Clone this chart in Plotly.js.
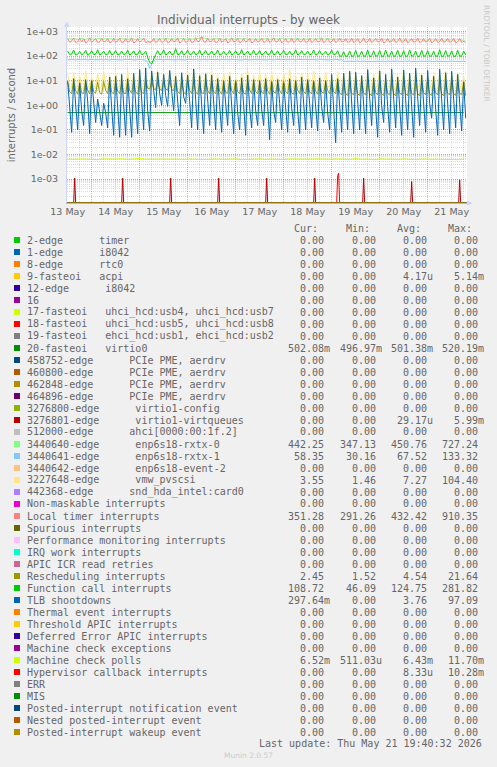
<!DOCTYPE html>
<html><head><meta charset="utf-8">
<script src="https://cdn.plot.ly/plotly-3.0.1.min.js"></script>
<style>html,body{margin:0;padding:0;background:#F0F0F0;}#chart{width:497px;height:767px;}</style>
</head><body><div id="chart"></div>
<script>
// ---------- axis range / categories ----------
const RANGE_START = '2026-05-13 11:40';
const RANGE_END = '2026-05-21 19:40';
const GRID_START_UTC = Date.UTC(2026, 4, 13, 12, 0); // first hourly sample
const yTickVals = [1e-3, 1e-2, 1e-1, 1e0, 1e1, 1e2, 1e3];
const yTickText = ['1e-03', '1e-02', '1e-01', '1e+00', '1e+01', '1e+02', '1e+03'];

// ---------- legend ----------
const labels = [
  '2-edge      timer', '1-edge      i8042', '8-edge      rtc0', '9-fasteoi   acpi',
  '12-edge      i8042', '16', '17-fasteoi   uhci_hcd:usb4, uhci_hcd:usb7',
  '18-fasteoi   uhci_hcd:usb5, uhci_hcd:usb8', '19-fasteoi   ehci_hcd:usb1, ehci_hcd:usb2',
  '20-fasteoi   virtio0', '458752-edge      PCIe PME, aerdrv', '460800-edge      PCIe PME, aerdrv',
  '462848-edge      PCIe PME, aerdrv', '464896-edge      PCIe PME, aerdrv',
  '3276800-edge      virtio1-config', '3276801-edge      virtio1-virtqueues',
  '512000-edge      ahci[0000:00:1f.2]', '3440640-edge      enp6s18-rxtx-0',
  '3440641-edge      enp6s18-rxtx-1', '3440642-edge      enp6s18-event-2',
  '3227648-edge      vmw_pvscsi', '442368-edge      snd_hda_intel:card0',
  'Non-maskable interrupts', 'Local timer interrupts', 'Spurious interrupts',
  'Performance monitoring interrupts', 'IRQ work interrupts', 'APIC ICR read retries',
  'Rescheduling interrupts', 'Function call interrupts', 'TLB shootdowns',
  'Thermal event interrupts', 'Threshold APIC interrupts', 'Deferred Error APIC interrupts',
  'Machine check exceptions', 'Machine check polls', 'Hypervisor callback interrupts',
  'ERR', 'MIS', 'Posted-interrupt notification event', 'Nested posted-interrupt event',
  'Posted-interrupt wakeup event'
];
const colors = [
  '#00CC00', '#0066B3', '#FF8000', '#FFCC00', '#330099', '#990099', '#CCFF00', '#FF0000', '#808080',
  '#008F00', '#00487D', '#B35A00', '#B38F00', '#6B006B', '#8FB300', '#B30000', '#BEBEBE', '#80FF80',
  '#80C9FF', '#FFC080', '#FFE680', '#AA80FF', '#EE00CC', '#FF8080', '#666600', '#FFBFFF', '#00FFCC',
  '#CC6699', '#999900', '#00CC00', '#0066B3', '#FF8000', '#FFCC00', '#330099', '#990099', '#CCFF00',
  '#FF0000', '#808080', '#008F00', '#00487D', '#B35A00', '#B38F00'
];
const curVals = [0,0,0,0,0,0,0,0,0,0.50208,0,0,0,0,0,0,0,442.25,58.35,0,3.55,0,0,351.28,0,0,0,0,2.45,108.72,0.29764,0,0,0,0,6.52e-3,0,0,0,0,0,0];
const minVals = [0,0,0,0,0,0,0,0,0,0.49697,0,0,0,0,0,0,0,347.13,30.16,0,1.46,0,0,291.26,0,0,0,0,1.52,46.09,0,0,0,0,0,511.03e-6,0,0,0,0,0,0];
const avgVals = [0,0,0,4.17e-6,0,0,0,0,0,0.50138,0,0,0,0,0,29.17e-6,0,450.76,67.52,0,7.27,0,0,432.42,0,0,0,0,4.54,124.75,3.76,0,0,0,0,6.43e-3,8.33e-6,0,0,0,0,0];
const maxVals = [0,0,0,5.14e-3,0,0,0,0,0,0.52019,0,0,0,0,0,5.99e-3,0,727.24,133.32,0,104.40,0,0,910.35,0,0,0,0,21.64,281.82,97.09,0,0,0,0,11.70e-3,10.28e-3,0,0,0,0,0];

// ---------- series values (hourly from 13 May 12:00 unless noted) ----------
const tlbVals = [
  9.5,1.2,0.08, 12,0.9,0.1, 8,0.6,0.15, 11,1.5,0.07, 10,1.1,0.2, 1.8,0.4,0.15, 1.2,0.5,0.12, 14,0.8,0.06,
  15,0.7,0.05, 18,1.0,0.06, 12,0.5,0.05, 20,0.9,0.07, 28,1.3,0.1, 33,0.6,0.09, 25,4,0.8, 22,3,1.0,
  18,2.5,0.9, 26,3,0.6, 15,1.8,0.15, 21,2.2,1.2, 17,1.4,0.12, 30,1.0,0.1, 16,0.8,0.07, 19,1.2,0.15,
  17,0.9,0.1, 12,0.6,0.08, 10,1.1,0.15, 15,0.7,0.07, 9,0.5,0.1, 13,1.0,0.06, 17,0.8,0.12, 11,0.6,0.15,
  10,0.7,0.15, 12,0.9,0.04, 9,0.6,0.2, 11,1.2,0.1, 8,0.5,0.08, 12,0.8,0.15, 10,0.6,0.07, 14,1.0,0.1,
  11,0.7,0.12, 9,0.6,0.09, 13,0.9,0.2, 10,0.5,0.1, 18,0.8,0.03, 12,0.7,0.08, 20,1.1,0.1, 24,1.0,0.07,
  22,1.2,0.1, 16,0.8,0.07, 28,1.4,0.15, 13,0.7,0.05, 25,1.0,0.2, 18,0.9,0.08, 30,1.3,0.12, 14,0.6,0.06,
  27,1.1,0.1, 20,0.9,0.05, 32,1.5,0.15, 17,0.8,0.08, 26,1.2,0.3, 15,0.7,0.06, 29,1.0,0.1, 21,0.9,0.07,
  24,1.1,0.12, 18,0.8,0.09, 9,0.3
];
const localTimerVals = [
  520,360,410,540,350,380,530,370,500,340,390,550,360,420,510,350,380,540,370,400,520,340,380,530,
  360,410,540,350,370,520,360,400,550,340,380,510,370,420,540,350,390,360,380,520,350,400,530,360,
  390,540,350,380,520,370,410,550,340,390,530,360,400,520,350,380,560,370,410,620,380,360,540,370,
  400,530,350,380,540,360,410,520,340,390,550,370,400,530,350,380,520,360,410,540,340,390,510,370,
  400,540,360,380,520,350,410,550,370,390,530,340,400,520,360,380,540,350,410,530,370,390,520,360,
  380,540,350,400,520,370,390,550,340,410,530,360,380,520,350,400,540,370,390,510,360,380,540,350,
  400,520,340,390,550,360,380,530,350,410,520,370,390,540,340,380,530,360,400,520,350,390,550,360,
  380,530,340,400,520,360,390,540,350,380,510,370,400,530,340,390,520,360,380,540,350,400,520,360,
  390,530,340,380,520,360,400,350
];
const rxtx0Vals = [
  480,500,470,510,490,460,500,520,480,470,510,490,500,480,470,510,500,490,480,520,470,500,490,480,
  500,470,490,510,480,500,470,490,510,480,460,490,500,480,470,490,430,350,420,480,500,490,470,500,
  480,490,510,470,500,480,490,470,500,510,480,490,470,500,480,490,470,510,540,590,560,500,480,490,
  470,500,480,490,510,470,480,500,490,470,510,480,490,470,500,480,490,510,470,480,500,490,470,480,
  500,470,490,480,510,470,490,500,480,470,490,510,480,470,500,490,480,470,510,490,480,470,500,480,
  490,470,500,480,470,490,510,480,470,490,500,480,470,490,480,460,470,450,460,470,450,460,470,450,
  460,450,470,440,460,450,470,460,440,450,470,460,450,440,460,470,450,460,440,450,470,460,450,440,
  460,450,440,470,460,450,440,460,470,450,460,440,450,470,460,450,440,460,450,470,440,460,450,460,
  450,460,440,470,450,460,440,442
];
const functionCallVals = [
  160,115,120,175,110,118,155,112,125,170,108,120,165,114,118,180,110,122,158,112,116,172,110,120,
  168,112,118,160,115,120,176,110,124,162,112,118,170,114,120,158,90,55,48,80,115,165,112,120,
  178,110,122,160,114,118,200,112,120,165,110,125,172,115,118,160,112,120,175,110,122,168,114,118,
  162,112,120,176,110,118,158,114,122,170,110,120,165,112,118,180,110,124,160,114,118,172,112,120,
  168,110,122,160,114,118,175,112,120,163,110,125,170,114,118,158,112,120,178,110,122,165,114,118,
  160,112,120,176,110,118,168,114,122,158,110,120,172,112,118,165,100,98,150,96,102,160,98,100,
  170,96,104,158,98,100,176,95,102,162,98,104,168,96,100,175,98,102,160,95,104,172,98,100,
  165,96,102,178,98,104,160,95,100,170,98,102,166,96,104,158,98,100,180,95,102,168,98,104,
  162,96,100,172,98,102,160,108
];
const rxtx1Vals = [
  72,70,74,71,69,73,72,70,75,71,69,72,74,70,71,73,69,72,70,74,71,69,73,72,
  70,74,71,69,72,73,70,71,74,69,72,70,73,71,69,68,55,32,45,66,72,70,74,71,
  69,73,72,70,74,71,69,72,70,73,71,69,74,72,70,71,73,69,72,70,74,71,69,73,
  72,70,71,74,69,72,73,70,71,69,74,72,70,73,71,69,72,74,70,71,73,69,72,70,
  74,71,69,72,70,73,71,69,74,72,70,71,73,69,72,70,74,71,69,73,72,70,71,74,
  69,72,73,70,71,69,74,72,70,73,71,69,72,70,74,71,69,72,62,60,63,61,60,62,
  61,63,60,62,61,60,63,62,60,61,62,63,60,61,62,60,63,61,62,60,61,63,60,62,
  60,62,61,63,60,62,61,60,63,62,61,60,62,63,61,60,62,61,63,60,62,61,60,62,
  61,60,63,62,60,61,62,58
];
const pvscsiVals = [
  18,6,5,22,5,7,16,6,4,25,7,5,14,6,5,20,5,6,24,7,4,17,6,5,
  21,5,7,15,6,4,26,5,6,18,7,5,23,6,4,16,5,8,20,6,5,28,7,4,
  17,6,5,24,5,7,19,6,4,15,7,5,22,6,4,27,5,6,18,7,5,21,6,4,
  25,5,7,16,6,4,20,7,5,23,6,4,14,5,6,19,7,5,26,6,4,17,5,6,
  22,7,5,18,6,4,24,5,7,15,6,5,21,7,4,28,6,5,16,5,7,20,6,4,
  19,6,5,25,7,4,17,6,5,22,5,7,14,6,4,23,5,6,18,7,4,26,6,5,
  20,5,6,16,7,4,24,6,5,19,5,7,27,6,4,15,7,5,21,6,4,18,5,6,
  23,7,5,17,6,4,26,5,7,20,6,5,15,7,4,22,6,5,19,5,6,25,7,4,
  18,6,5,21,7,4,16,3.5
];
const reschedVals = [
  9,3.5,3, 10,4,2.8, 8.5,3.2,3, 9.5,4.2,2.9, 10,3.6,3.1, 8.8,3.3,2.8, 9.2,4,3, 10.5,3.4,2.9,
  9,3.8,3, 8.7,3.2,2.9, 10,4.1,3.1, 9.4,3.5,2.8, 8.9,3.3,3, 10.2,5,4.5, 9.6,4.8,4.2, 8.8,4.5,4,
  9.5,4.6,4.1, 10,4.4,3.9, 9,3.6,3, 8.6,3.3,2.9, 10.3,4,3, 9.1,3.5,2.8, 8.9,3.2,3, 9.7,4.1,2.9,
  10,3.4,3, 9.2,3.8,2.8, 8.7,3.3,3.1, 9.9,4,2.9, 10.4,3.5,3, 8.8,3.2,2.8, 9.5,4.2,3, 9.1,3.6,2.9,
  8.9,3.3,3, 10.1,3.9,2.8, 9.3,3.4,3.1, 8.6,4,2.9, 9.8,3.5,3, 10.2,3.2,2.8, 9,4.1,3, 8.7,3.6,2.9,
  9.6,3.3,3, 10,3.8,2.8, 9.1,3.4,3.1, 8.8,4,2.9, 9.7,3.5,3, 10.3,3.2,2.6, 9.2,3,2.5, 8.9,3.1,2.6,
  9.4,2.9,2.5, 10.1,3.2,2.6, 8.8,3,2.4, 9.6,3.3,2.6, 10.2,2.9,2.5, 9,3.1,2.6, 8.7,3,2.4, 9.8,3.2,2.6,
  10,2.9,2.5, 9.3,3.1,2.6, 8.9,3,2.4, 9.7,3.3,2.6, 10.4,2.9,2.5, 9.1,3.2,2.6, 8.8,3,2.4, 9.5,3.1,2.6,
  9.9,3,2.5, 9.2,3.2,2.6, 8.7,2.45
];
// every 3 hours
const mcPollVals = [
  0.0065,0.0063,0.0066,0.0064,0.0065,0.0062,0.0066,0.0064, 0.0065,0.0067,0.0063,0.0065,0.0071,0.0064,0.0065,0.0062,
  0.0066,0.0064,0.0065,0.0063,0.0066,0.0065,0.0062,0.0064, 0.0066,0.0065,0.0063,0.0064,0.0066,0.0062,0.0065,0.0064,
  0.0066,0.0063,0.0065,0.0064,0.0062,0.0066,0.0065,0.0063, 0.0064,0.0066,0.0065,0.0062,0.0064,0.0066,0.0065,0.0063,
  0.0068,0.0064,0.0065,0.0062,0.0066,0.0064,0.0065,0.0063, 0.0066,0.0064,0.0062,0.0065,0.0064,0.0066,0.0063,0.0065,
  0.0064,0.0062,0.0065
];
// every 6 hours
const virtio0Vals = [
  0.502,0.501,0.503,0.500,0.502,0.501,0.504,0.502, 0.500,0.503,0.501,0.502,0.500,0.502,0.503,0.501,
  0.502,0.500,0.501,0.503,0.502,0.501,0.500,0.502, 0.503,0.501,0.502,0.500,0.502,0.501,0.503,0.502,
  0.501,0.502
];
// short daily spikes (otherwise zero)
const virtqSpikeTimes = ['2026-05-13 15:30','2026-05-14 15:30','2026-05-15 15:30','2026-05-16 15:30',
  '2026-05-17 15:30','2026-05-18 15:30','2026-05-19 16:00','2026-05-20 16:00','2026-05-21 16:00'];
const virtqSpikeVals = [1.1e-3, 1.1e-3, 1.1e-3, 1.1e-3, 1.1e-3, 1.1e-3, 1.1e-3, 8.0e-4, 9.4e-4];
const hvTimes = ['2026-05-19 02:30','2026-05-19 03:00','2026-05-19 03:30','2026-05-19 04:00'];
const hvVals = [0, 1.4e-3, 1.75e-3, 0];

// ---------- build ----------
const Y_MIN = -3.97, Y_MAX = 3.18;
const FLOOR = Math.pow(10, Y_MIN);
const tstr = ms => new Date(ms).toISOString().slice(0, 16).replace('T', ' ');
const parseT = s => Date.parse(s.replace(' ', 'T') + ':00Z');
const grid = (n, stepH) => Array.from({length: n}, (_, i) => tstr(GRID_START_UTC + i * stepH * 3600e3));
const lift = arr => arr.map(v => (v > 0 ? v : FLOOR));

function regular(vals, stepH) { return {x: grid(vals.length, stepH), y: lift(vals)}; }
function spikes(times, vals) {
  const x = [RANGE_START], y = [0];
  times.forEach((t, i) => {
    const ms = parseT(t);
    x.push(tstr(ms - 1800e3), t, tstr(ms + 1800e3));
    y.push(0, vals[i], 0);
  });
  x.push(RANGE_END); y.push(0);
  return {x, y: lift(y)};
}
function sparse(times, vals) {
  return {x: [RANGE_START].concat(times, [RANGE_END]), y: lift([0].concat(vals, [0]))};
}

const dataFor = {
  9: regular(virtio0Vals, 6),
  15: spikes(virtqSpikeTimes, virtqSpikeVals),
  17: regular(rxtx0Vals, 1),
  18: regular(rxtx1Vals, 1),
  20: regular(pvscsiVals, 1),
  23: regular(localTimerVals, 1),
  28: regular(reschedVals, 1),
  29: regular(functionCallVals, 1),
  30: regular(tlbVals, 1),
  35: regular(mcPollVals, 3),
  36: sparse(hvTimes, hvVals)
};

const traces = labels.map((name, i) => {
  const d = dataFor[i] || {x: [RANGE_START, RANGE_END], y: lift([0, 0])};
  return {type: 'scatter', mode: 'lines', name, x: d.x, y: d.y,
    line: {color: colors[i], width: 1}, hoverinfo: 'skip', cliponaxis: true};
});

// ---------- legend & text ----------
const PL = 67, PR = 467, PT = 27, PB = 203;
const X = px => (px - PL) / (PR - PL);
const Y = py => (PB - py) / (PB - PT);
const nb = s => s.replace(/ /g, '\u00a0');
const MONO = {family: 'DejaVu Sans Mono, monospace', size: 10, color: '#666666'};
const ann = [], shapes = [];
function txt(px, py, s, extra) {
  ann.push(Object.assign({xref: 'paper', yref: 'paper', x: X(px), y: Y(py), text: nb(s),
    showarrow: false, xanchor: 'left', yanchor: 'middle', borderpad: 0, font: MONO}, extra || {}));
}
function fmt(v) {
  let m = v, s = ' ';
  if (v !== 0 && Math.abs(v) < 1) {
    if (Math.abs(v) >= 1e-3) { m = v * 1e3; s = 'm'; } else { m = v * 1e6; s = 'u'; }
  }
  return m.toFixed(2).padStart(6, ' ') + s;
}
const COLX = [286.7, 339, 390, 441];
['Cur:', 'Min:', 'Avg:', 'Max:'].forEach((h, k) => txt(COLX[k] + 6, 228, h));
labels.forEach((name, i) => {
  const ry = 240 + 12 * i;
  shapes.push({type: 'rect', xref: 'paper', yref: 'paper', x0: X(14), x1: X(20), y0: Y(ry + 3), y1: Y(ry - 3),
    fillcolor: colors[i], line: {width: 0}, layer: 'above'});
  txt(26, ry, name);
  [curVals, minVals, avgVals, maxVals].forEach((arr, k) => txt(COLX[k], ry, fmt(arr[i])));
});
txt(483, 743, 'Last update: Thu May 21 19:40:32 2026', {xanchor: 'right'});
txt(248.5, 755, 'Munin 2.0.57', {xanchor: 'center', font: {family: 'DejaVu Sans', size: 7.5, color: '#CCCCCC'}});
txt(487, 53, 'RRDTOOL / TOBI OETIKER', {xanchor: 'center', textangle: 90, font: {family: 'DejaVu Sans', size: 7.5, color: '#C8C8C8'}});
txt(67, 24, '\u25B2', {xanchor: 'center', font: {family: 'DejaVu Sans', size: 7, color: '#CFD6F8'}});
txt(470, 203, '\u25B6', {xanchor: 'center', font: {family: 'DejaVu Sans', size: 7, color: '#CFD6F8'}});

const layout = {
  width: 497, height: 767,
  margin: {l: PL, r: 497 - PR, t: PT, b: 767 - PB, pad: 0},
  paper_bgcolor: '#F0F0F0', plot_bgcolor: '#FFFFFF',
  showlegend: false,
  font: {family: 'DejaVu Sans', color: '#666666', size: 10},
  title: {text: 'Individual interrupts - by week', xref: 'container', x: 0.5, xanchor: 'center',
    yref: 'container', y: 1 - 20 / 767, yanchor: 'middle', font: {size: 12, color: '#666666'}},
  xaxis: {
    type: 'date', range: [RANGE_START, RANGE_END], tick0: '2026-05-13', dtick: 86400000,
    ticklabelmode: 'period', tickformat: '%d %b', ticks: '', tickfont: {size: 9.5, color: '#666666'},
    showgrid: true, gridcolor: 'rgba(255,0,0,0.32)', griddash: '1px,1px', gridwidth: 1,
    minor: {tick0: '2026-05-13', dtick: 21600000, showgrid: true, gridcolor: 'rgba(128,128,128,0.28)', griddash: '1px,1px', gridwidth: 1},
    showline: true, linecolor: 'rgba(179,143,0,0.55)', linewidth: 1, zeroline: false, fixedrange: true
  },
  yaxis: {
    type: 'log', range: [Y_MIN, Y_MAX], tickmode: 'array', tickvals: yTickVals, ticktext: yTickText,
    ticks: '', tickfont: {size: 9.5, color: '#666666'}, ticklabelstandoff: 6,
    showgrid: true, gridcolor: 'rgba(255,0,0,0.32)', griddash: '1px,1px', gridwidth: 1,
    minor: {dtick: 'D1', showgrid: true, gridcolor: 'rgba(128,128,128,0.28)', griddash: '1px,1px', gridwidth: 1},
    showline: true, linecolor: '#CFD6F8', linewidth: 1, zeroline: false, fixedrange: true,
    title: {text: 'interrupts / second', font: {size: 10, color: '#666666'}, standoff: 8}
  },
  annotations: ann,
  shapes: shapes
};
Plotly.newPlot('chart', traces, layout, {displayModeBar: false, staticPlot: true});
</script></body></html>
